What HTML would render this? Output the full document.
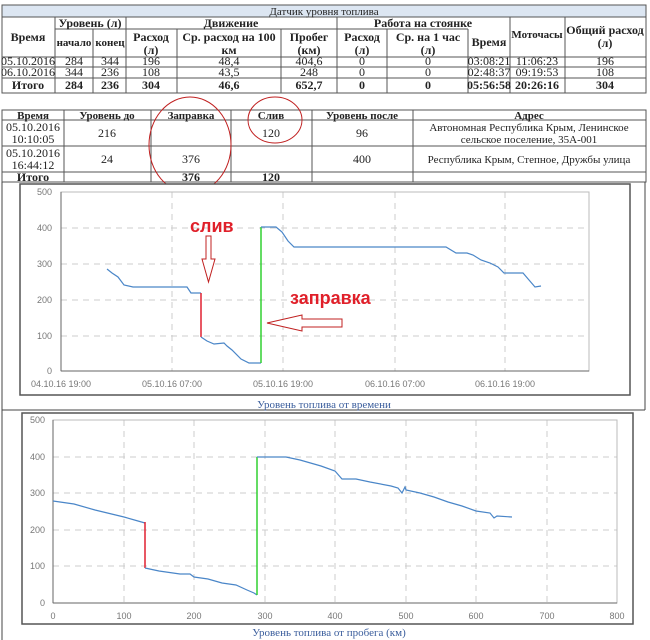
<!DOCTYPE html>
<html><head><meta charset="utf-8"><style>
html,body{margin:0;padding:0;background:#fff;}
svg{display:block;}
.t{font-family:"Liberation Serif",serif;font-size:12px;fill:#222;text-anchor:middle;}
.b{font-weight:bold;}
.ax{font-family:"Liberation Sans",sans-serif;font-size:9px;fill:#777;text-anchor:middle;}
.ay{font-family:"Liberation Sans",sans-serif;font-size:9px;fill:#777;text-anchor:end;}
.cap{font-family:"Liberation Serif",serif;font-size:11px;fill:#3a5d9c;text-anchor:middle;}
.g{stroke:#ccc;stroke-dasharray:6,5;stroke-width:1;}
</style></head><body>
<svg width="650" height="640" viewBox="0 0 650 640" xmlns="http://www.w3.org/2000/svg">
<!-- TABLE 1 -->
<rect x="2" y="5" width="644" height="12" fill="#dce6f2"/>
<g stroke="#555" stroke-width="1" fill="none">
<rect x="2" y="5" width="644" height="88"/>
<line x1="2" y1="17" x2="646" y2="17"/>
<line x1="55" y1="29" x2="126" y2="29"/><line x1="126" y1="29" x2="337" y2="29"/><line x1="337" y1="29" x2="468" y2="29"/>
<line x1="2" y1="57" x2="646" y2="57"/>
<line x1="2" y1="67" x2="646" y2="67"/>
<line x1="2" y1="78" x2="646" y2="78"/>
<line x1="55" y1="17" x2="55" y2="93"/><line x1="93" y1="29" x2="93" y2="93"/><line x1="126" y1="17" x2="126" y2="93"/>
<line x1="177" y1="29" x2="177" y2="93"/><line x1="281" y1="29" x2="281" y2="93"/><line x1="337" y1="17" x2="337" y2="93"/>
<line x1="387" y1="29" x2="387" y2="93"/><line x1="468" y1="29" x2="468" y2="93"/><line x1="510" y1="17" x2="510" y2="93"/>
<line x1="565" y1="17" x2="565" y2="93"/>
</g>
<text class="t" x="324" y="15" style="font-size:11px">Датчик уровня топлива</text>
<text class="t b" x="90" y="27">Уровень (л)</text>
<text class="t b" x="231" y="27">Движение</text>
<text class="t b" x="423" y="27">Работа на стоянке</text>
<text class="t b" x="28" y="41">Время</text>
<text class="t b" x="74" y="46" style="font-size:11px">начало</text>
<text class="t b" x="110" y="46" style="font-size:11px">конец</text>
<text class="t b" x="151" y="41">Расход</text><text class="t b" x="151" y="54">(л)</text>
<text class="t b" x="229" y="41">Ср. расход на 100</text><text class="t b" x="229" y="54">км</text>
<text class="t b" x="309" y="41">Пробег</text><text class="t b" x="309" y="54">(км)</text>
<text class="t b" x="362" y="41">Расход</text><text class="t b" x="362" y="54">(л)</text>
<text class="t b" x="428" y="41">Ср. на 1 час</text><text class="t b" x="428" y="54">(л)</text>
<text class="t b" x="489" y="46">Время</text>
<text class="t b" x="537" y="38" style="font-size:11px">Моточасы</text>
<text class="t b" x="605" y="34">Общий расход</text><text class="t b" x="605" y="47">(л)</text>
<g class="t">
<text x="28" y="65">05.10.2016</text><text x="74" y="65">284</text><text x="110" y="65">344</text><text x="151" y="65">196</text><text x="229" y="65">48,4</text><text x="309" y="65">404,6</text><text x="362" y="65">0</text><text x="428" y="65">0</text><text x="489" y="65">03:08:21</text><text x="537" y="65">11:06:23</text><text x="605" y="65">196</text>
<text x="28" y="76">06.10.2016</text><text x="74" y="76">344</text><text x="110" y="76">236</text><text x="151" y="76">108</text><text x="229" y="76">43,5</text><text x="309" y="76">248</text><text x="362" y="76">0</text><text x="428" y="76">0</text><text x="489" y="76">02:48:37</text><text x="537" y="76">09:19:53</text><text x="605" y="76">108</text>
</g>
<g class="t b">
<text x="28" y="89">Итого</text><text x="74" y="89">284</text><text x="110" y="89">236</text><text x="151" y="89">304</text><text x="229" y="89">46,6</text><text x="309" y="89">652,7</text><text x="362" y="89">0</text><text x="428" y="89">0</text><text x="489" y="89">05:56:58</text><text x="537" y="89">20:26:16</text><text x="605" y="89">304</text>
</g>
<!-- TABLE 2 -->
<g stroke="#555" stroke-width="1" fill="none">
<rect x="2" y="110" width="644" height="72"/>
<line x1="2" y1="120" x2="646" y2="120"/><line x1="2" y1="146" x2="646" y2="146"/><line x1="2" y1="172" x2="646" y2="172"/>
<line x1="64" y1="110" x2="64" y2="182"/><line x1="151" y1="110" x2="151" y2="182"/><line x1="231" y1="110" x2="231" y2="182"/>
<line x1="312" y1="110" x2="312" y2="182"/><line x1="413" y1="110" x2="413" y2="182"/>
</g>
<g class="t">
<text x="33" y="119" class="t b" style="font-size:11px">Время</text><text x="107" y="119" class="t b" style="font-size:11px">Уровень до</text><text x="191" y="119" class="t b" style="font-size:11px">Заправка</text><text x="271" y="119" class="t b" style="font-size:11px">Слив</text><text x="362" y="119" class="t b" style="font-size:11px">Уровень после</text><text x="529" y="119" class="t b" style="font-size:11px">Адрес</text>
<text x="33" y="131">05.10.2016</text><text x="33" y="143">10:10:05</text><text x="107" y="137">216</text><text x="271" y="137">120</text><text x="362" y="137">96</text>
<text x="529" y="131" style="font-size:11px">Автономная Республика Крым, Ленинское</text><text x="529" y="143" style="font-size:11px">сельское поселение, 35А-001</text>
<text x="33" y="157">05.10.2016</text><text x="33" y="169">16:44:12</text><text x="107" y="163">24</text><text x="191" y="163">376</text><text x="362" y="163">400</text>
<text x="529" y="163" style="font-size:11px">Республика Крым, Степное, Дружбы улица</text>
<text x="33" y="181" class="t b">Итого</text><text x="191" y="181" class="t b">376</text><text x="271" y="181" class="t b">120</text>
</g>
<ellipse cx="190" cy="145" rx="41" ry="48" fill="none" stroke="#c02020" stroke-width="1"/>
<ellipse cx="275" cy="120" rx="27" ry="23" fill="none" stroke="#c02020" stroke-width="1"/>

<!-- outer frame -->
<line x1="2" y1="182" x2="2" y2="640" stroke="#444"/>
<line x1="645" y1="182" x2="645" y2="410" stroke="#444"/>
<line x1="2" y1="410" x2="645" y2="410" stroke="#444"/>

<!-- CHART 1 -->
<rect x="20" y="184" width="610" height="211" fill="#fff" stroke="#555" stroke-width="1.5"/>
<g>
<line class="g" x1="61" y1="228" x2="589" y2="228"/><line class="g" x1="61" y1="264" x2="589" y2="264"/><line class="g" x1="61" y1="300" x2="589" y2="300"/><line class="g" x1="61" y1="336" x2="589" y2="336"/>
<line class="g" x1="172" y1="192" x2="172" y2="371"/><line class="g" x1="283" y1="192" x2="283" y2="371"/><line class="g" x1="395" y1="192" x2="395" y2="371"/><line class="g" x1="505" y1="192" x2="505" y2="371"/>
<rect x="61" y="192" width="528" height="179" fill="none" stroke="#bbb"/>
<line x1="61" y1="192" x2="61" y2="371" stroke="#666"/><line x1="61" y1="371" x2="589" y2="371" stroke="#666"/>
</g>
<g class="ay"><text x="52" y="195">500</text><text x="52" y="231">400</text><text x="52" y="267">300</text><text x="52" y="303">200</text><text x="52" y="339">100</text><text x="52" y="374">0</text></g>
<g class="ax"><text x="61" y="387">04.10.16 19:00</text><text x="172" y="387">05.10.16 07:00</text><text x="283" y="387">05.10.16 19:00</text><text x="395" y="387">06.10.16 07:00</text><text x="505" y="387">06.10.16 19:00</text></g>
<polyline fill="none" stroke="#4a86c8" stroke-width="1.2" points="107,269 112,273 118,277 124,285 133,287 187,287 191,293 201,293"/>
<line x1="201" y1="293" x2="201" y2="337" stroke="#e02030" stroke-width="1.5"/>
<polyline fill="none" stroke="#4a86c8" stroke-width="1.2" points="201,337 207,341 214,344 224,343 227,346 232,350 241,359 249,363 261,363"/>
<line x1="261" y1="363" x2="261" y2="227" stroke="#30d030" stroke-width="1.5"/>
<polyline fill="none" stroke="#4a86c8" stroke-width="1.2" points="261,227 276,227 282,232 288,241 294,247 421,247 432,247 446,247 456,253 467,253 473,255 481,260 490,263 498,267 504,273 523,273 529,280 535,287 541,286"/>
<text x="190" y="232" style="font-family:'Liberation Sans',sans-serif;font-weight:bold;font-size:18px;fill:#e0202a">слив</text>
<polygon points="206,236 211,236 211,259 215,259 208.5,282 202,259 206,259" fill="#fff" stroke="#c02020" stroke-width="1"/>
<text x="290" y="304" style="font-family:'Liberation Sans',sans-serif;font-weight:bold;font-size:18px;fill:#e0202a">заправка</text>
<polygon points="267,323 302,315 302,319 342,319 342,327 302,327 302,331" fill="#fff" stroke="#c02020" stroke-width="1"/>
<text class="cap" x="324" y="408">Уровень топлива от времени</text>

<!-- CHART 2 -->
<rect x="22" y="413" width="611" height="211" fill="#fff" stroke="#555" stroke-width="1.5"/>
<g>
<line class="g" x1="53" y1="457" x2="617" y2="457"/><line class="g" x1="53" y1="493" x2="617" y2="493"/><line class="g" x1="53" y1="530" x2="617" y2="530"/><line class="g" x1="53" y1="566" x2="617" y2="566"/>
<line class="g" x1="124" y1="420" x2="124" y2="603"/><line class="g" x1="194" y1="420" x2="194" y2="603"/><line class="g" x1="265" y1="420" x2="265" y2="603"/><line class="g" x1="335" y1="420" x2="335" y2="603"/><line class="g" x1="406" y1="420" x2="406" y2="603"/><line class="g" x1="476" y1="420" x2="476" y2="603"/><line class="g" x1="547" y1="420" x2="547" y2="603"/>
<rect x="53" y="420" width="564" height="183" fill="none" stroke="#bbb"/>
<line x1="53" y1="420" x2="53" y2="603" stroke="#666"/><line x1="53" y1="603" x2="617" y2="603" stroke="#666"/>
</g>
<g class="ay"><text x="45" y="423">500</text><text x="45" y="460">400</text><text x="45" y="496">300</text><text x="45" y="533">200</text><text x="45" y="569">100</text><text x="45" y="606">0</text></g>
<g class="ax"><text x="53" y="619">0</text><text x="124" y="619">100</text><text x="194" y="619">200</text><text x="265" y="619">300</text><text x="335" y="619">400</text><text x="406" y="619">500</text><text x="476" y="619">600</text><text x="547" y="619">700</text><text x="617" y="619">800</text></g>
<polyline fill="none" stroke="#4a86c8" stroke-width="1.2" points="53,501 60,502 74,504 95,510 124,517 138,521 145,523"/>
<line x1="145" y1="522" x2="145" y2="568" stroke="#e02030" stroke-width="1.5"/>
<polyline fill="none" stroke="#4a86c8" stroke-width="1.2" points="145,568 159,571 173,573 180,574 190,574 194,577 208,579 222,583 236,585 247,590 254,593 257,595"/>
<line x1="257" y1="595" x2="257" y2="457" stroke="#30d030" stroke-width="1.5"/>
<polyline fill="none" stroke="#4a86c8" stroke-width="1.2" points="257,457 286,457 300,460 321,466 335,471 342,479 356,479 370,482 391,486 398,488 402,493 405,487 406,490 420,493 434,497 448,502 462,506 476,511 490,513 494,518 497,516 512,517"/>
<text class="cap" x="329" y="636">Уровень топлива от пробега (км)</text>
</svg>
</body></html>
